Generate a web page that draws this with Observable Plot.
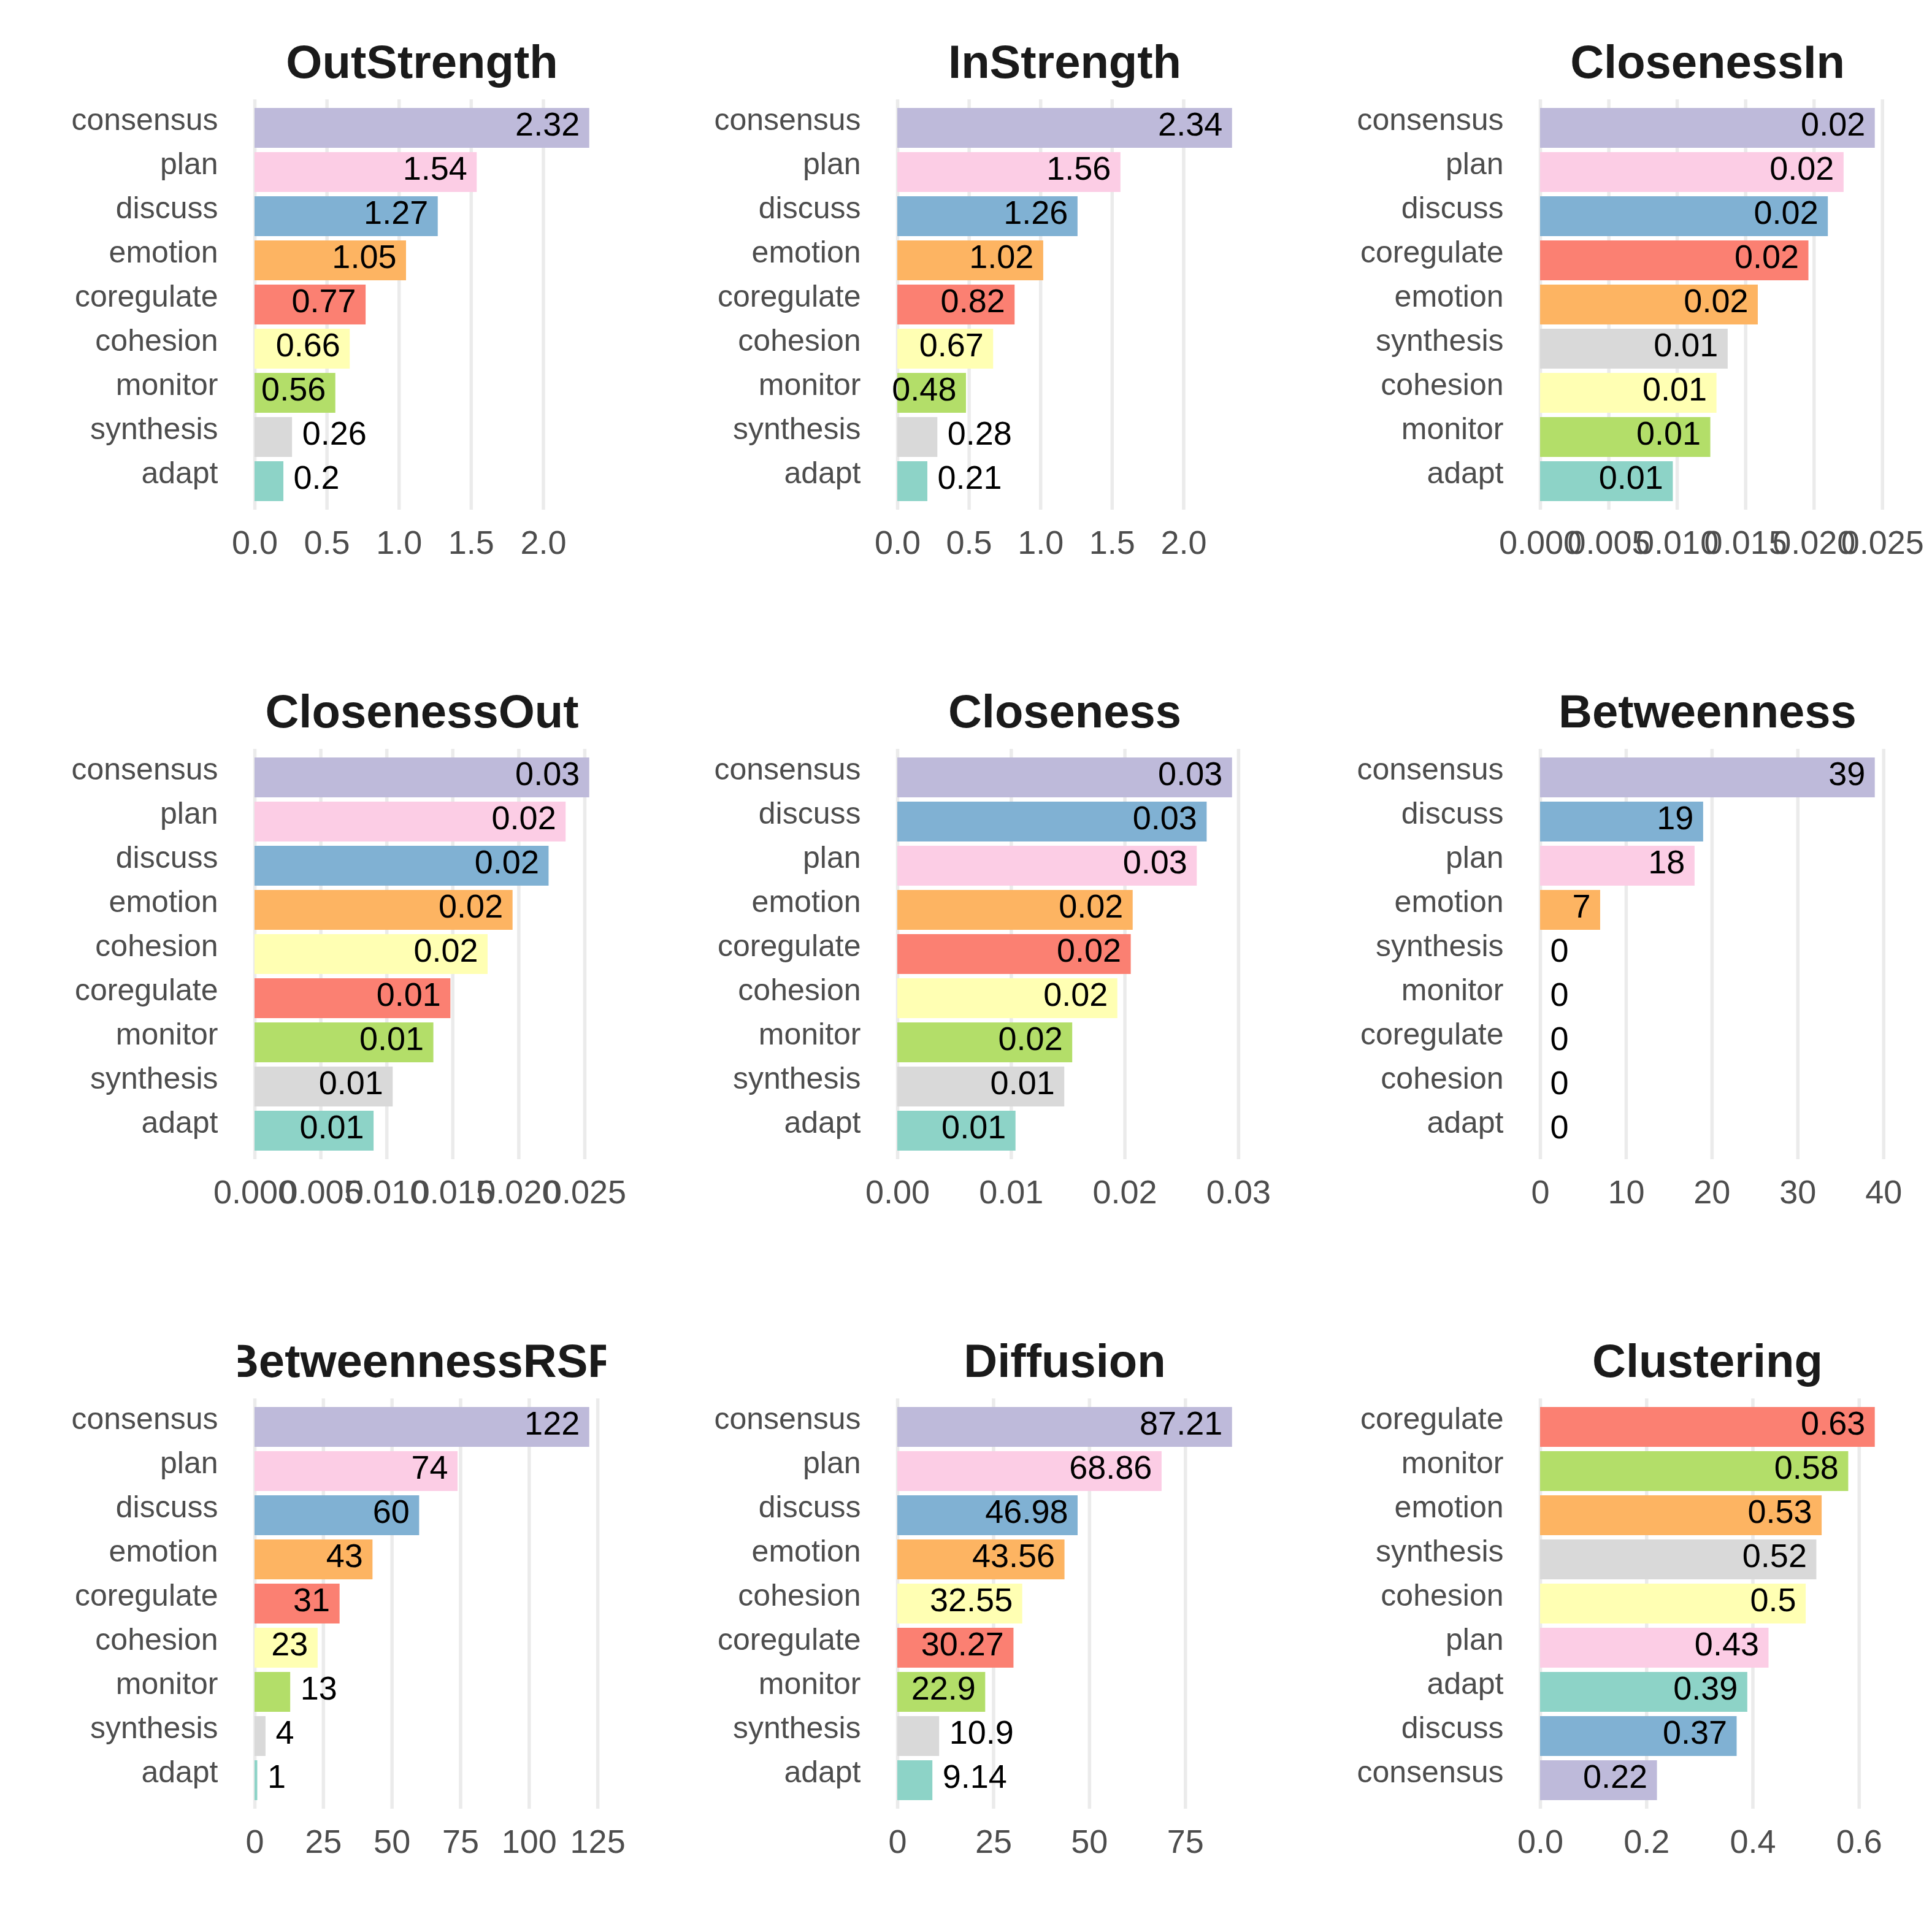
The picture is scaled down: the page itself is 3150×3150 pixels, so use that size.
<!DOCTYPE html>
<html><head><meta charset="utf-8">
<script src="https://cdn.jsdelivr.net/npm/d3@7"></script>
<script src="https://cdn.jsdelivr.net/npm/@observablehq/plot@0.6"></script>
<style>
body{margin:0;background:#fff;}
#root{position:relative;width:3150px;height:3150px;background:#fff;overflow:hidden;font-family:"Liberation Sans",Arial,sans-serif;}
.cell{position:absolute;width:1050px;}
.title{position:relative;height:150px;}
.tclip{position:absolute;left:388px;width:600px;top:0;height:150px;overflow:hidden;display:flex;justify-content:center;}
.tclip span{font-weight:bold;font-size:76px;line-height:76px;margin-top:63px;white-space:nowrap;color:#1a1a1a;flex-shrink:0;}
.cell svg{display:block;}
</style>
</head><body><div id="root"></div>
<script>
// ---- data ----
const allCats = ["consensus","plan","discuss","emotion","coregulate","cohesion","monitor","synthesis","adapt"];
const catColors = ["#BEBADA","#FCCDE5","#80B1D3","#FDB462","#FB8072","#FFFFB3","#B3DE69","#D9D9D9","#8DD3C7"];

const outStrengthCats = ["consensus","plan","discuss","emotion","coregulate","cohesion","monitor","synthesis","adapt"];
const outStrengthVals = [2.32,1.54,1.27,1.05,0.77,0.66,0.56,0.26,0.2];
const inStrengthCats = ["consensus","plan","discuss","emotion","coregulate","cohesion","monitor","synthesis","adapt"];
const inStrengthVals = [2.34,1.56,1.26,1.02,0.82,0.67,0.48,0.28,0.21];
const closenessInCats = ["consensus","plan","discuss","coregulate","emotion","synthesis","cohesion","monitor","adapt"];
const closenessInVals = [0.02446,0.02218,0.02103,0.01961,0.01591,0.01371,0.01289,0.01244,0.0097];
const closenessOutCats = ["consensus","plan","discuss","emotion","cohesion","coregulate","monitor","synthesis","adapt"];
const closenessOutVals = [0.02536,0.02357,0.02228,0.01955,0.01766,0.01484,0.01355,0.01047,0.00902];
const closenessCats = ["consensus","discuss","plan","emotion","coregulate","cohesion","monitor","synthesis","adapt"];
const closenessVals = [0.02945,0.02722,0.02635,0.02071,0.02054,0.01936,0.01539,0.01469,0.0104];
const betweennessCats = ["consensus","discuss","plan","emotion","synthesis","monitor","coregulate","cohesion","adapt"];
const betweennessVals = [39,19,18,7,0,0,0,0,0];
const betweennessRSPCats = ["consensus","plan","discuss","emotion","coregulate","cohesion","monitor","synthesis","adapt"];
const betweennessRSPVals = [122,74,60,43,31,23,13,4,1];
const diffusionCats = ["consensus","plan","discuss","emotion","cohesion","coregulate","monitor","synthesis","adapt"];
const diffusionVals = [87.21,68.86,46.98,43.56,32.55,30.27,22.9,10.9,9.14];
const clusteringCats = ["coregulate","monitor","emotion","synthesis","cohesion","plan","adapt","discuss","consensus"];
const clusteringVals = [0.63,0.58,0.53,0.52,0.5,0.43,0.39,0.37,0.22];

const ticksStrength = [0,0.5,1,1.5,2];
const ticksStrengthLabels = ["0.0","0.5","1.0","1.5","2.0"];
const ticksClosenessInOut = [0,0.005,0.01,0.015,0.02,0.025];
const ticksClosenessInOutLabels = ["0.000","0.005","0.010","0.015","0.020","0.025"];
const ticksCloseness = [0,0.01,0.02,0.03];
const ticksClosenessLabels = ["0.00","0.01","0.02","0.03"];
const ticksBetweenness = [0,10,20,30,40];
const ticksBetweennessLabels = ["0","10","20","30","40"];
const ticksRSP = [0,25,50,75,100,125];
const ticksRSPLabels = ["0","25","50","75","100","125"];
const ticksDiffusion = [0,25,50,75];
const ticksDiffusionLabels = ["0","25","50","75"];
const ticksClustering = [0,0.2,0.4,0.6];
const ticksClusteringLabels = ["0.0","0.2","0.4","0.6"];

const panels = [
  ["OutStrength", outStrengthCats, outStrengthVals, ticksStrength, ticksStrengthLabels],
  ["InStrength", inStrengthCats, inStrengthVals, ticksStrength, ticksStrengthLabels],
  ["ClosenessIn", closenessInCats, closenessInVals, ticksClosenessInOut, ticksClosenessInOutLabels],
  ["ClosenessOut", closenessOutCats, closenessOutVals, ticksClosenessInOut, ticksClosenessInOutLabels],
  ["Closeness", closenessCats, closenessVals, ticksCloseness, ticksClosenessLabels],
  ["Betweenness", betweennessCats, betweennessVals, ticksBetweenness, ticksBetweennessLabels],
  ["BetweennessRSP", betweennessRSPCats, betweennessRSPVals, ticksRSP, ticksRSPLabels],
  ["Diffusion", diffusionCats, diffusionVals, ticksDiffusion, ticksDiffusionLabels],
  ["Clustering", clusteringCats, clusteringVals, ticksClustering, ticksClusteringLabels]
];

const FONT = "'Liberation Sans', Arial, sans-serif";
const fmt = v => String(Math.round(v * 100) / 100);

function makePanel(cats, vals, ticks, tickLabels) {
  const data = cats.map((c, i) => ({cat: c, v: vals[i]}));
  const max = d3.max(vals);
  const inside = d => d.v > 0.15 * max;
  const labelMap = new Map(ticks.map((t, i) => [t, tickLabels[i]]));
  return Plot.plot({
    width: 1050, height: 781,
    marginLeft: 415, marginRight: 62, marginTop: 12, marginBottom: 100,
    x: {domain: [0, max * 1.05]},
    y: {domain: cats, paddingInner: 0.1, paddingOuter: 0.15, align: 0.5},
    color: {domain: allCats, range: catColors},
    style: {fontFamily: FONT, background: "white", color: "black", overflow: "visible"},
    marks: [
      Plot.ruleX(ticks, {stroke: "#EBEBEB", strokeWidth: 5.5}),
      Plot.barX(data, {x: "v", y: "cat", fill: "cat"}),
      Plot.text(data.filter(inside), {x: "v", y: "cat", text: d => fmt(d.v), textAnchor: "end", dx: -16, dy: -5, fontSize: 54, fill: "black"}),
      Plot.text(data.filter(d => !inside(d)), {x: "v", y: "cat", text: d => fmt(d.v), textAnchor: "start", dx: 16, dy: -5, fontSize: 54, fill: "black"}),
      Plot.axisY({tickSize: 0, tickPadding: 60, fontSize: 50, fill: "#4D4D4D", dy: -13, label: null}),
      Plot.axisX(ticks, {tickSize: 0, tickPadding: 33, fontSize: 54, fill: "#4D4D4D", tickFormat: d => labelMap.get(d), label: null})
    ]
  });
}

const root = document.getElementById("root");
panels.forEach((p, k) => {
  const [name, cats, vals, ticks, tickLabels] = p;
  const row = Math.floor(k / 3), col = k % 3;
  const cell = document.createElement("div");
  cell.className = "cell";
  cell.style.left = (col * 1048) + "px";
  cell.style.top = (row * 1059) + "px";
  const t = document.createElement("div");
  t.className = "title";
  const clip = document.createElement("div");
  clip.className = "tclip";
  const span = document.createElement("span");
  span.textContent = name;
  clip.appendChild(span);
  t.appendChild(clip);
  cell.appendChild(t);
  cell.appendChild(makePanel(cats, vals, ticks, tickLabels));
  root.appendChild(cell);
});
</script>
</body></html>
